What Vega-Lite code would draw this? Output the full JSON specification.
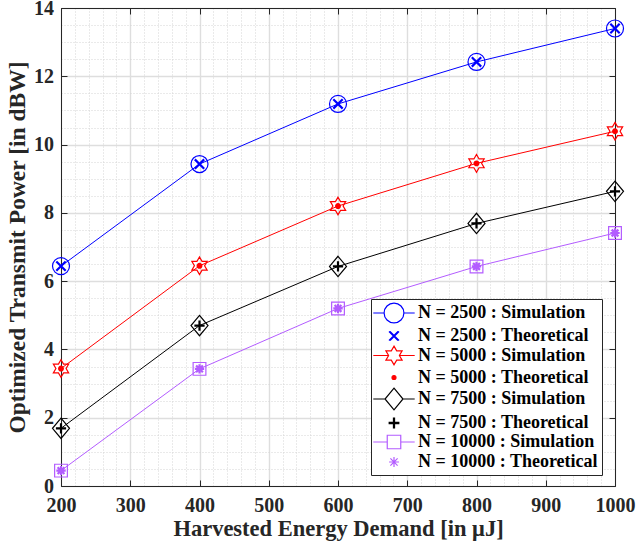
{
  "$schema": "https://vega.github.io/schema/vega-lite/v6.json",
  "width": 554,
  "height": 478,
  "autosize": "none",
  "padding": {"left": 61, "top": 8, "right": 21, "bottom": 59},
  "background": "white",
  "config": {
    "view": {"stroke": null},
    "font": "Liberation Serif",
    "axis": {
      "labelFont": "Liberation Serif",
      "labelFontWeight": "bold",
      "labelFontSize": 20,
      "labelColor": "#262626",
      "titleFont": "Liberation Serif",
      "titleFontWeight": "bold",
      "titleFontSize": 22.5,
      "titleColor": "#262626",
      "domainColor": "#262626",
      "domainWidth": 1,
      "tickColor": "#262626",
      "tickWidth": 1
    },
    "legend": {
      "orient": "none",
      "legendX": 310,
      "legendY": 291,
      "padding": 4,
      "strokeColor": "#262626",
      "fillColor": "white",
      "labelFont": "Liberation Serif",
      "labelFontWeight": "bold",
      "labelFontSize": 18,
      "labelColor": "black",
      "labelLimit": 400,
      "symbolSize": 324,
      "symbolOffset": 9,
      "symbolOpacity": 1,
      "symbolStrokeWidth": 1.2,
      "labelOffset": 14,
      "rowPadding": -1.5
    }
  },
  "data": {
    "values": [
      {"x": 200, "y": 6.44, "N": "2500", "type": "Simulation", "label": "N = 2500 : Simulation"},
      {"x": 400, "y": 9.43, "N": "2500", "type": "Simulation", "label": "N = 2500 : Simulation"},
      {"x": 600, "y": 11.19, "N": "2500", "type": "Simulation", "label": "N = 2500 : Simulation"},
      {"x": 800, "y": 12.42, "N": "2500", "type": "Simulation", "label": "N = 2500 : Simulation"},
      {"x": 1000, "y": 13.40, "N": "2500", "type": "Simulation", "label": "N = 2500 : Simulation"},
      {"x": 200, "y": 6.44, "N": "2500", "type": "Theoretical", "label": "N = 2500 : Theoretical"},
      {"x": 400, "y": 9.43, "N": "2500", "type": "Theoretical", "label": "N = 2500 : Theoretical"},
      {"x": 600, "y": 11.19, "N": "2500", "type": "Theoretical", "label": "N = 2500 : Theoretical"},
      {"x": 800, "y": 12.42, "N": "2500", "type": "Theoretical", "label": "N = 2500 : Theoretical"},
      {"x": 1000, "y": 13.40, "N": "2500", "type": "Theoretical", "label": "N = 2500 : Theoretical"},
      {"x": 200, "y": 3.44, "N": "5000", "type": "Simulation", "label": "N = 5000 : Simulation"},
      {"x": 400, "y": 6.45, "N": "5000", "type": "Simulation", "label": "N = 5000 : Simulation"},
      {"x": 600, "y": 8.20, "N": "5000", "type": "Simulation", "label": "N = 5000 : Simulation"},
      {"x": 800, "y": 9.45, "N": "5000", "type": "Simulation", "label": "N = 5000 : Simulation"},
      {"x": 1000, "y": 10.39, "N": "5000", "type": "Simulation", "label": "N = 5000 : Simulation"},
      {"x": 200, "y": 3.44, "N": "5000", "type": "Theoretical", "label": "N = 5000 : Theoretical"},
      {"x": 400, "y": 6.45, "N": "5000", "type": "Theoretical", "label": "N = 5000 : Theoretical"},
      {"x": 600, "y": 8.20, "N": "5000", "type": "Theoretical", "label": "N = 5000 : Theoretical"},
      {"x": 800, "y": 9.45, "N": "5000", "type": "Theoretical", "label": "N = 5000 : Theoretical"},
      {"x": 1000, "y": 10.39, "N": "5000", "type": "Theoretical", "label": "N = 5000 : Theoretical"},
      {"x": 200, "y": 1.69, "N": "7500", "type": "Simulation", "label": "N = 7500 : Simulation"},
      {"x": 400, "y": 4.70, "N": "7500", "type": "Simulation", "label": "N = 7500 : Simulation"},
      {"x": 600, "y": 6.43, "N": "7500", "type": "Simulation", "label": "N = 7500 : Simulation"},
      {"x": 800, "y": 7.69, "N": "7500", "type": "Simulation", "label": "N = 7500 : Simulation"},
      {"x": 1000, "y": 8.63, "N": "7500", "type": "Simulation", "label": "N = 7500 : Simulation"},
      {"x": 200, "y": 1.69, "N": "7500", "type": "Theoretical", "label": "N = 7500 : Theoretical"},
      {"x": 400, "y": 4.70, "N": "7500", "type": "Theoretical", "label": "N = 7500 : Theoretical"},
      {"x": 600, "y": 6.43, "N": "7500", "type": "Theoretical", "label": "N = 7500 : Theoretical"},
      {"x": 800, "y": 7.69, "N": "7500", "type": "Theoretical", "label": "N = 7500 : Theoretical"},
      {"x": 1000, "y": 8.63, "N": "7500", "type": "Theoretical", "label": "N = 7500 : Theoretical"},
      {"x": 200, "y": 0.45, "N": "10000", "type": "Simulation", "label": "N = 10000 : Simulation"},
      {"x": 400, "y": 3.43, "N": "10000", "type": "Simulation", "label": "N = 10000 : Simulation"},
      {"x": 600, "y": 5.20, "N": "10000", "type": "Simulation", "label": "N = 10000 : Simulation"},
      {"x": 800, "y": 6.43, "N": "10000", "type": "Simulation", "label": "N = 10000 : Simulation"},
      {"x": 1000, "y": 7.41, "N": "10000", "type": "Simulation", "label": "N = 10000 : Simulation"},
      {"x": 200, "y": 0.45, "N": "10000", "type": "Theoretical", "label": "N = 10000 : Theoretical"},
      {"x": 400, "y": 3.43, "N": "10000", "type": "Theoretical", "label": "N = 10000 : Theoretical"},
      {"x": 600, "y": 5.20, "N": "10000", "type": "Theoretical", "label": "N = 10000 : Theoretical"},
      {"x": 800, "y": 6.43, "N": "10000", "type": "Theoretical", "label": "N = 10000 : Theoretical"},
      {"x": 1000, "y": 7.41, "N": "10000", "type": "Theoretical", "label": "N = 10000 : Theoretical"}
    ]
  },
  "resolve": {
    "axis": {"x": "independent", "y": "independent"},
    "scale": {"shape": "independent", "stroke": "independent", "fill": "independent"},
    "legend": {"shape": "independent", "stroke": "independent", "fill": "independent"}
  },
  "layer": [
    {
      "transform": [{"filter": "datum.type === 'Simulation'"}],
      "mark": {"type": "line", "strokeWidth": 1, "opacity": 1},
      "encoding": {
        "x": {
          "field": "x", "type": "quantitative",
          "scale": {"domain": [200, 1000], "nice": false, "zero": false},
          "axis": {
            "orient": "bottom",
            "title": "Harvested Energy Demand [in μJ]",
            "values": [200,220,240,260,280,300,320,340,360,380,400,420,440,460,480,500,520,540,560,580,600,620,640,660,680,700,720,740,760,780,800,820,840,860,880,900,920,940,960,980,1000],
            "labelExpr": "datum.value % 100 === 0 ? '' + datum.value : ''",
            "labelPadding": 15,
            "labelFlush": false,
            "labelOverlap": false,
            "tickSize": -6,
            "tickOpacity": {"condition": {"test": "datum.value % 100 === 0", "value": 1}, "value": 0},
            "grid": true,
            "gridColor": {"condition": {"test": "datum.value % 100 === 0", "value": "#dedede"}, "value": "#d4d4d4"},
            "gridWidth": {"condition": {"test": "datum.value % 100 === 0", "value": 1.4}, "value": 1},
            "gridDash": {"condition": {"test": "datum.value % 100 === 0", "value": []}, "value": [1, 2]},
            "titlePadding": 2
          }
        },
        "y": {
          "field": "y", "type": "quantitative",
          "scale": {"domain": [0, 14], "nice": false, "zero": false},
          "axis": {
            "orient": "left",
            "title": "Optimized Transmit Power [in dBW]",
            "titleFontSize": 23.5,
            "values": [0,0.5,1,1.5,2,2.5,3,3.5,4,4.5,5,5.5,6,6.5,7,7.5,8,8.5,9,9.5,10,10.5,11,11.5,12,12.5,13,13.5,14],
            "labelExpr": "datum.value % 2 === 0 ? '' + datum.value : ''",
            "labelPadding": 13.5,
            "labelFlush": false,
            "labelOverlap": false,
            "tickSize": -6,
            "tickOpacity": {"condition": {"test": "datum.value % 2 === 0", "value": 1}, "value": 0},
            "grid": true,
            "gridColor": {"condition": {"test": "datum.value % 2 === 0", "value": "#dedede"}, "value": "#d4d4d4"},
            "gridWidth": {"condition": {"test": "datum.value % 2 === 0", "value": 1.4}, "value": 1},
            "gridDash": {"condition": {"test": "datum.value % 2 === 0", "value": []}, "value": [1, 2]},
            "titlePadding": 4
          }
        },
        "stroke": {
          "field": "label", "type": "nominal",
          "scale": {
            "domain": ["N = 2500 : Simulation", "N = 2500 : Theoretical", "N = 5000 : Simulation", "N = 5000 : Theoretical", "N = 7500 : Simulation", "N = 7500 : Theoretical", "N = 10000 : Simulation", "N = 10000 : Theoretical"],
            "range": ["#0000ff", "#0000ff", "#ff0000", "#ff0000", "#000000", "#000000", "#b35cff", "#b35cff"]
          },
          "legend": null
        },
        "detail": {"field": "label"}
      }
    },
    {
      "transform": [{"filter": "datum.type === 'Simulation'"}],
      "mark": {"type": "point", "size": 289, "strokeWidth": 1.2, "opacity": 1},
      "encoding": {
        "x": {"field": "x", "type": "quantitative", "scale": {"domain": [200, 1000], "nice": false, "zero": false}, "axis": null},
        "y": {"field": "y", "type": "quantitative", "scale": {"domain": [0, 14], "nice": false, "zero": false}, "axis": null},
        "stroke": {
          "field": "label", "type": "nominal",
          "scale": {
            "domain": ["N = 2500 : Simulation", "N = 2500 : Theoretical", "N = 5000 : Simulation", "N = 5000 : Theoretical", "N = 7500 : Simulation", "N = 7500 : Theoretical", "N = 10000 : Simulation", "N = 10000 : Theoretical"],
            "range": ["#0000ff", "#0000ff", "#ff0000", "#ff0000", "#000000", "#000000", "#b35cff", "#b35cff"]
          },
          "legend": null
        },
        "fill": {"value": "transparent"},
        "shape": {
          "field": "label", "type": "nominal",
          "scale": {
            "domain": ["N = 2500 : Simulation", "N = 2500 : Theoretical", "N = 5000 : Simulation", "N = 5000 : Theoretical", "N = 7500 : Simulation", "N = 7500 : Theoretical", "N = 10000 : Simulation", "N = 10000 : Theoretical"],
            "range": [
              "M1,0A1,1,0,1,1,-1,0A1,1,0,1,1,1,0Z",
              "M-0.55,-0.55L0.55,0.55M-0.55,0.55L0.55,-0.55",
              "M0,-1.04L0.3,-0.52L0.9,-0.52L0.6,0L0.9,0.52L0.3,0.52L0,1.04L-0.3,0.52L-0.9,0.52L-0.6,0L-0.9,-0.52L-0.3,-0.52Z",
              "M0.22,0A0.22,0.22,0,1,1,-0.22,0A0.22,0.22,0,1,1,0.22,0Z",
              "M0,-1.2L1,0L0,1.2L-1,0Z",
              "M-0.6,0L0.6,0M0,-0.6L0,0.6",
              "M-0.75,-0.75L0.75,-0.75L0.75,0.75L-0.75,0.75Z",
              "M-0.55,0L0.55,0M0,-0.55L0,0.55M-0.4,-0.4L0.4,0.4M-0.4,0.4L0.4,-0.4"
            ]
          },
          "legend": null
        }
      }
    },
    {
      "transform": [{"filter": "datum.type === 'Theoretical'"}],
      "mark": {"type": "point", "size": 289, "strokeWidth": 2.2, "opacity": 1},
      "encoding": {
        "x": {
          "field": "x", "type": "quantitative",
          "scale": {"domain": [200, 1000], "nice": false, "zero": false},
          "axis": {"orient": "top", "title": null, "values": [200,300,400,500,600,700,800,900,1000], "labels": false, "grid": false, "tickSize": -6}
        },
        "y": {
          "field": "y", "type": "quantitative",
          "scale": {"domain": [0, 14], "nice": false, "zero": false},
          "axis": {"orient": "right", "title": null, "values": [0,2,4,6,8,10,12,14], "labels": false, "grid": false, "tickSize": -6}
        },
        "stroke": {
          "field": "label", "type": "nominal",
          "scale": {
            "domain": ["N = 2500 : Simulation", "N = 2500 : Theoretical", "N = 5000 : Simulation", "N = 5000 : Theoretical", "N = 7500 : Simulation", "N = 7500 : Theoretical", "N = 10000 : Simulation", "N = 10000 : Theoretical"],
            "range": ["#0000ff", "#0000ff", "#ff0000", "#ff0000", "#000000", "#000000", "#b35cff", "#b35cff"]
          },
          "legend": null
        },
        "fill": {
          "field": "label", "type": "nominal",
          "scale": {
            "domain": ["N = 2500 : Simulation", "N = 2500 : Theoretical", "N = 5000 : Simulation", "N = 5000 : Theoretical", "N = 7500 : Simulation", "N = 7500 : Theoretical", "N = 10000 : Simulation", "N = 10000 : Theoretical"],
            "range": ["transparent", "transparent", "transparent", "#ff0000", "transparent", "transparent", "transparent", "transparent"]
          },
          "legend": null
        },
        "shape": {
          "field": "label", "type": "nominal",
          "scale": {
            "domain": ["N = 2500 : Simulation", "N = 2500 : Theoretical", "N = 5000 : Simulation", "N = 5000 : Theoretical", "N = 7500 : Simulation", "N = 7500 : Theoretical", "N = 10000 : Simulation", "N = 10000 : Theoretical"],
            "range": [
              "M1,0A1,1,0,1,1,-1,0A1,1,0,1,1,1,0Z",
              "M-0.55,-0.55L0.55,0.55M-0.55,0.55L0.55,-0.55",
              "M0,-1.04L0.3,-0.52L0.9,-0.52L0.6,0L0.9,0.52L0.3,0.52L0,1.04L-0.3,0.52L-0.9,0.52L-0.6,0L-0.9,-0.52L-0.3,-0.52Z",
              "M0.22,0A0.22,0.22,0,1,1,-0.22,0A0.22,0.22,0,1,1,0.22,0Z",
              "M0,-1.2L1,0L0,1.2L-1,0Z",
              "M-0.6,0L0.6,0M0,-0.6L0,0.6",
              "M-0.75,-0.75L0.75,-0.75L0.75,0.75L-0.75,0.75Z",
              "M-0.55,0L0.55,0M0,-0.55L0,0.55M-0.4,-0.4L0.4,0.4M-0.4,0.4L0.4,-0.4"
            ]
          },
          "legend": null
        }
      }
    },
    {
      "transform": [{"filter": "datum.x === 200"}],
      "mark": {"type": "point", "size": 324, "strokeWidth": 1.2, "opacity": 0},
      "encoding": {
        "x": {"field": "x", "type": "quantitative", "scale": {"domain": [200, 1000], "nice": false, "zero": false}, "axis": null},
        "y": {"field": "y", "type": "quantitative", "scale": {"domain": [0, 14], "nice": false, "zero": false}, "axis": null},
        "stroke": {
          "field": "label", "type": "nominal",
          "scale": {
            "domain": ["N = 2500 : Simulation", "N = 2500 : Theoretical", "N = 5000 : Simulation", "N = 5000 : Theoretical", "N = 7500 : Simulation", "N = 7500 : Theoretical", "N = 10000 : Simulation", "N = 10000 : Theoretical"],
            "range": ["#0000ff", "#0000ff", "#ff0000", "#ff0000", "#000000", "#000000", "#b35cff", "#b35cff"]
          },
          "legend": {"title": null}
        },
        "fill": {
          "field": "label", "type": "nominal",
          "scale": {
            "domain": ["N = 2500 : Simulation", "N = 2500 : Theoretical", "N = 5000 : Simulation", "N = 5000 : Theoretical", "N = 7500 : Simulation", "N = 7500 : Theoretical", "N = 10000 : Simulation", "N = 10000 : Theoretical"],
            "range": ["transparent", "transparent", "transparent", "#ff0000", "transparent", "transparent", "transparent", "transparent"]
          },
          "legend": {"title": null}
        },
        "shape": {
          "field": "label", "type": "nominal",
          "scale": {
            "domain": ["N = 2500 : Simulation", "N = 2500 : Theoretical", "N = 5000 : Simulation", "N = 5000 : Theoretical", "N = 7500 : Simulation", "N = 7500 : Theoretical", "N = 10000 : Simulation", "N = 10000 : Theoretical"],
            "range": [
              "M-2.3,0L-1.1,0M1.1,0L2.3,0M1.1,0A1.1,1.1,0,1,1,-1.1,0A1.1,1.1,0,1,1,1.1,0Z",
              "M-0.56,-0.5L0.44,0.5M-0.44,-0.5L0.56,0.5M-0.56,0.5L0.44,-0.5M-0.44,0.5L0.56,-0.5",
              "M-2.3,0L-0.6,0M0.6,0L2.3,0M0,-1.04L0.3,-0.52L0.9,-0.52L0.6,0L0.9,0.52L0.3,0.52L0,1.04L-0.3,0.52L-0.9,0.52L-0.6,0L-0.9,-0.52L-0.3,-0.52Z",
              "M0.22,0A0.22,0.22,0,1,1,-0.22,0A0.22,0.22,0,1,1,0.22,0Z",
              "M-2.3,0L-1,0M1,0L2.3,0M0,-1.2L1,0L0,1.2L-1,0Z",
              "M-0.6,-0.06L0.6,-0.06M-0.6,0.06L0.6,0.06M-0.06,-0.6L-0.06,0.6M0.06,-0.6L0.06,0.6",
              "M-2.3,0L-0.75,0M0.75,0L2.3,0M-0.75,-0.75L0.75,-0.75L0.75,0.75L-0.75,0.75Z",
              "M-0.55,0L0.55,0M0,-0.55L0,0.55M-0.4,-0.4L0.4,0.4M-0.4,0.4L0.4,-0.4"
            ]
          },
          "legend": {"title": null}
        }
      }
    }
  ]
}
